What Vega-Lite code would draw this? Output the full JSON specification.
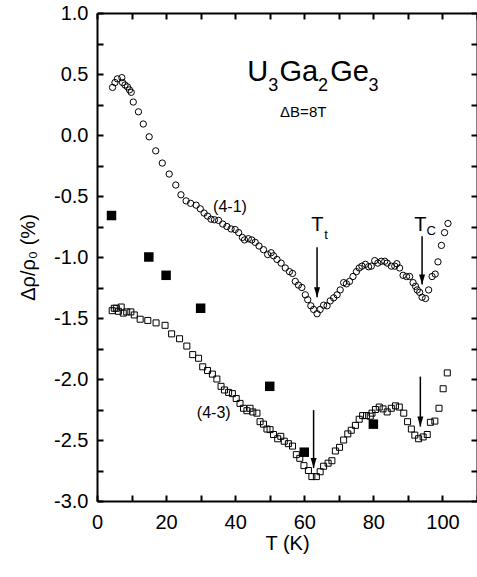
{
  "$schema": "https://vega.github.io/schema/vega-lite/v6.json",
  "width": 380,
  "height": 488,
  "autosize": {"type": "none"},
  "padding": {"left": 97, "top": 13, "right": 0, "bottom": 76},
  "background": "white",
  "config": {"font": "Liberation Sans", "view": {"stroke": null}},
  "datasets": {
    "s41": [
      {"T":4.5,"v":0.39},{"T":5.2,"v":0.43},{"T":5.9,"v":0.46},{"T":7.2,"v":0.47},{"T":7.4,"v":0.43},{"T":8.1,"v":0.41},{"T":8.8,"v":0.395},{"T":9.4,"v":0.37},{"T":9.9,"v":0.35},{"T":10.5,"v":0.27},{"T":12.0,"v":0.19},{"T":13.4,"v":0.09},{"T":15.1,"v":-0.015},{"T":17.0,"v":-0.13},{"T":18.9,"v":-0.23},{"T":20.9,"v":-0.32},{"T":22.8,"v":-0.41},{"T":24.3,"v":-0.49},{"T":25.8,"v":-0.54},{"T":27.1,"v":-0.56},{"T":28.7,"v":-0.575},{"T":29.9,"v":-0.605},{"T":31.0,"v":-0.64},{"T":32.0,"v":-0.665},{"T":33.0,"v":-0.69},{"T":34.0,"v":-0.695},{"T":35.2,"v":-0.70},{"T":36.4,"v":-0.73},{"T":37.6,"v":-0.75},{"T":38.8,"v":-0.77},{"T":40.0,"v":-0.775},{"T":41.0,"v":-0.80},{"T":42.1,"v":-0.84},{"T":42.7,"v":-0.86},{"T":43.8,"v":-0.85},{"T":44.8,"v":-0.86},{"T":45.8,"v":-0.88},{"T":46.9,"v":-0.91},{"T":48.2,"v":-0.94},{"T":49.4,"v":-0.98},{"T":50.4,"v":-0.965},{"T":51.1,"v":-0.99},{"T":52.1,"v":-1.02},{"T":53.3,"v":-1.05},{"T":54.5,"v":-1.09},{"T":55.7,"v":-1.12},{"T":56.6,"v":-1.135},{"T":57.4,"v":-1.20},{"T":58.3,"v":-1.23},{"T":59.3,"v":-1.25},{"T":60.3,"v":-1.31},{"T":61.0,"v":-1.35},{"T":61.9,"v":-1.40},{"T":62.7,"v":-1.43},{"T":63.7,"v":-1.465},{"T":64.6,"v":-1.43},{"T":65.6,"v":-1.395},{"T":66.6,"v":-1.40},{"T":67.5,"v":-1.36},{"T":68.5,"v":-1.335},{"T":69.5,"v":-1.31},{"T":70.4,"v":-1.27},{"T":71.4,"v":-1.21},{"T":72.2,"v":-1.22},{"T":73.1,"v":-1.20},{"T":74.1,"v":-1.16},{"T":75.1,"v":-1.12},{"T":75.9,"v":-1.09},{"T":76.7,"v":-1.075},{"T":77.7,"v":-1.06},{"T":78.6,"v":-1.08},{"T":79.4,"v":-1.075},{"T":80.4,"v":-1.03},{"T":81.3,"v":-1.05},{"T":82.3,"v":-1.035},{"T":83.3,"v":-1.035},{"T":84.0,"v":-1.05},{"T":85.2,"v":-1.075},{"T":86.2,"v":-1.075},{"T":86.8,"v":-1.055},{"T":87.6,"v":-1.09},{"T":88.6,"v":-1.15},{"T":89.6,"v":-1.16},{"T":90.5,"v":-1.16},{"T":91.5,"v":-1.21},{"T":92.2,"v":-1.24},{"T":92.7,"v":-1.27},{"T":93.4,"v":-1.29},{"T":94.1,"v":-1.33},{"T":95.1,"v":-1.34},{"T":96.0,"v":-1.27},{"T":97.0,"v":-1.16},{"T":97.9,"v":-1.14},{"T":98.7,"v":-1.04},{"T":99.7,"v":-0.905},{"T":100.6,"v":-0.80},{"T":101.6,"v":-0.725}
    ],
    "s43": [
      {"T":4.4,"v":-1.44},{"T":5.0,"v":-1.42},{"T":5.6,"v":-1.42},{"T":6.2,"v":-1.445},{"T":7.0,"v":-1.41},{"T":7.6,"v":-1.46},{"T":8.6,"v":-1.45},{"T":9.8,"v":-1.45},{"T":10.8,"v":-1.475},{"T":12.5,"v":-1.51},{"T":14.7,"v":-1.52},{"T":17.1,"v":-1.54},{"T":19.7,"v":-1.56},{"T":21.6,"v":-1.63},{"T":23.9,"v":-1.67},{"T":26.0,"v":-1.73},{"T":27.7,"v":-1.80},{"T":29.4,"v":-1.83},{"T":30.6,"v":-1.90},{"T":32.0,"v":-1.93},{"T":33.4,"v":-1.96},{"T":34.7,"v":-2.00},{"T":35.9,"v":-2.06},{"T":36.9,"v":-2.09},{"T":38.1,"v":-2.11},{"T":39.2,"v":-2.12},{"T":40.3,"v":-2.16},{"T":41.4,"v":-2.20},{"T":42.4,"v":-2.24},{"T":43.4,"v":-2.26},{"T":44.3,"v":-2.24},{"T":45.1,"v":-2.27},{"T":46.3,"v":-2.28},{"T":47.2,"v":-2.35},{"T":48.2,"v":-2.37},{"T":49.2,"v":-2.41},{"T":50.1,"v":-2.415},{"T":51.1,"v":-2.455},{"T":52.3,"v":-2.49},{"T":53.2,"v":-2.47},{"T":54.2,"v":-2.51},{"T":55.4,"v":-2.53},{"T":56.6,"v":-2.55},{"T":57.7,"v":-2.62},{"T":58.7,"v":-2.65},{"T":59.9,"v":-2.71},{"T":61.2,"v":-2.75},{"T":62.2,"v":-2.80},{"T":63.5,"v":-2.80},{"T":64.6,"v":-2.76},{"T":65.6,"v":-2.715},{"T":66.9,"v":-2.69},{"T":68.0,"v":-2.67},{"T":69.0,"v":-2.59},{"T":70.2,"v":-2.56},{"T":71.4,"v":-2.50},{"T":72.6,"v":-2.45},{"T":73.6,"v":-2.42},{"T":74.8,"v":-2.38},{"T":75.9,"v":-2.33},{"T":76.9,"v":-2.30},{"T":78.0,"v":-2.30},{"T":79.1,"v":-2.305},{"T":79.6,"v":-2.28},{"T":80.6,"v":-2.25},{"T":81.7,"v":-2.23},{"T":82.8,"v":-2.245},{"T":84.0,"v":-2.27},{"T":85.2,"v":-2.24},{"T":86.4,"v":-2.22},{"T":87.5,"v":-2.23},{"T":88.8,"v":-2.28},{"T":89.9,"v":-2.35},{"T":91.0,"v":-2.41},{"T":92.0,"v":-2.46},{"T":93.1,"v":-2.49},{"T":94.4,"v":-2.475},{"T":95.6,"v":-2.455},{"T":96.5,"v":-2.355},{"T":97.8,"v":-2.345},{"T":99.0,"v":-2.24},{"T":100.2,"v":-2.08},{"T":101.4,"v":-1.95}
    ],
    "filled": [
      {"T":4.2,"v":-0.66},{"T":15,"v":-1.0},{"T":20,"v":-1.15},{"T":30,"v":-1.42},{"T":50,"v":-2.06},{"T":60,"v":-2.6},{"T":80,"v":-2.37}
    ],
    "arrows": [
      {"T":63.7,"y1":-0.92,"y2":-1.33},
      {"T":94.1,"y1":-0.83,"y2":-1.225},
      {"T":62.7,"y1":-2.255,"y2":-2.73},
      {"T":93.6,"y1":-1.98,"y2":-2.39}
    ],
    "labels": [
      {"label":"U","T":43.5,"v":0.44,"group":"title"},
      {"label":"Ga","T":52.8,"v":0.44,"group":"title"},
      {"label":"Ge","T":67.5,"v":0.44,"group":"title"},
      {"label":"3","T":49.6,"v":0.357,"group":"titlesub"},
      {"label":"2","T":64.0,"v":0.357,"group":"titlesub"},
      {"label":"3","T":78.6,"v":0.357,"group":"titlesub"},
      {"label":"ΔB=8T","T":53.0,"v":0.15,"group":"field"},
      {"label":"(4-1)","T":38.5,"v":-0.63,"group":"series"},
      {"label":"(4-3)","T":33.8,"v":-2.32,"group":"series"},
      {"label":"T","T":63.8,"v":-0.79,"group":"temp"},
      {"label":"T","T":93.6,"v":-0.79,"group":"temp"},
      {"label":"t","T":65.8,"v":-0.85,"group":"tempsub"},
      {"label":"C","T":95.4,"v":-0.82,"group":"tempsub"}
    ]
  },
  "resolve": {"axis": {"x": "independent", "y": "independent"}},
  "layer": [
    {
      "data": {"name": "s41"},
      "mark": {"type": "point", "shape": "circle", "filled": false, "stroke": "black", "strokeWidth": 1, "size": 40, "opacity": 1},
      "encoding": {
        "x": {"field": "T", "type": "quantitative", "scale": {"domain": [0, 110], "nice": false, "zero": false},
          "axis": {"orient": "bottom", "values": [0,10,20,30,40,50,60,70,80,90,100,110], "labelExpr": "datum.value % 20 == 0 && datum.value <= 100 ? datum.label : ''",
            "grid": false, "domainColor": "black", "domainWidth": 2, "tickColor": "black", "tickWidth": 2, "tickSize": -6,
            "labelPadding": 17, "labelFontSize": 20, "labelColor": "black", "labelOverlap": false, "labelBound": false, "labelFlush": false,
            "title": "T (K)", "titleFontSize": 20, "titleFontWeight": "normal", "titleColor": "black", "titlePadding": 1}},
        "y": {"field": "v", "type": "quantitative", "scale": {"domain": [-3, 1], "nice": false, "zero": false},
          "axis": {"orient": "left", "values": [-3,-2.75,-2.5,-2.25,-2,-1.75,-1.5,-1.25,-1,-0.75,-0.5,-0.25,0,0.25,0.5,0.75,1],
            "labelExpr": "datum.value % 0.5 == 0 ? (datum.value < 0 ? '-' + format(-datum.value, '.1f') : format(datum.value, '.1f')) : ''",
            "grid": false, "domainColor": "black", "domainWidth": 2, "tickColor": "black", "tickWidth": 2, "tickSize": -6,
            "labelPadding": 15, "labelFontSize": 20, "labelColor": "black", "labelOverlap": false, "labelBound": false, "labelFlush": false,
            "title": "Δρ/ρ₀ (%)", "titleFontSize": 20, "titleFontWeight": "normal", "titleColor": "black", "titlePadding": 15}}
      }
    },
    {
      "data": {"name": "s43"},
      "mark": {"type": "point", "shape": "square", "filled": false, "stroke": "black", "strokeWidth": 1, "size": 36, "opacity": 1},
      "encoding": {
        "x": {"field": "T", "type": "quantitative", "axis": null},
        "y": {"field": "v", "type": "quantitative", "axis": null}
      }
    },
    {
      "data": {"name": "filled"},
      "mark": {"type": "point", "shape": "square", "filled": true, "fill": "black", "size": 90, "opacity": 1},
      "encoding": {
        "x": {"field": "T", "type": "quantitative", "axis": null},
        "y": {"field": "v", "type": "quantitative", "axis": null}
      }
    },
    {
      "data": {"name": "arrows"},
      "mark": {"type": "rule", "color": "black", "strokeWidth": 1.5},
      "encoding": {
        "x": {"field": "T", "type": "quantitative",
          "axis": {"orient": "top", "values": [0,10,20,30,40,50,60,70,80,90,100,110], "labels": false, "title": null, "grid": false,
            "domainColor": "black", "domainWidth": 2, "tickColor": "black", "tickWidth": 2, "tickSize": -6}},
        "y": {"field": "y1", "type": "quantitative",
          "axis": {"orient": "right", "values": [-3,-2.75,-2.5,-2.25,-2,-1.75,-1.5,-1.25,-1,-0.75,-0.5,-0.25,0,0.25,0.5,0.75,1], "labels": false, "title": null, "grid": false,
            "domainColor": "black", "domainWidth": 2, "tickColor": "black", "tickWidth": 2, "tickSize": -6}},
        "y2": {"field": "y2"}
      }
    },
    {
      "data": {"name": "arrows"},
      "mark": {"type": "point", "shape": "M -0.3 -1 L 0.3 -1 L 0 0 Z", "filled": true, "fill": "black", "size": 400, "opacity": 1},
      "encoding": {
        "x": {"field": "T", "type": "quantitative", "axis": null},
        "y": {"field": "y2", "type": "quantitative", "axis": null}
      }
    },
    {
      "data": {"name": "labels"},
      "transform": [{"filter": "datum.group == 'title'"}],
      "mark": {"type": "text", "fontSize": 29, "align": "left", "baseline": "alphabetic", "color": "black"},
      "encoding": {
        "x": {"field": "T", "type": "quantitative", "axis": null},
        "y": {"field": "v", "type": "quantitative", "axis": null},
        "text": {"field": "label"}
      }
    },
    {
      "data": {"name": "labels"},
      "transform": [{"filter": "datum.group == 'titlesub'"}],
      "mark": {"type": "text", "fontSize": 18, "align": "left", "baseline": "alphabetic", "color": "black"},
      "encoding": {
        "x": {"field": "T", "type": "quantitative", "axis": null},
        "y": {"field": "v", "type": "quantitative", "axis": null},
        "text": {"field": "label"}
      }
    },
    {
      "data": {"name": "labels"},
      "transform": [{"filter": "datum.group == 'field'"}],
      "mark": {"type": "text", "fontSize": 15, "align": "left", "baseline": "alphabetic", "color": "black"},
      "encoding": {
        "x": {"field": "T", "type": "quantitative", "axis": null},
        "y": {"field": "v", "type": "quantitative", "axis": null},
        "text": {"field": "label"}
      }
    },
    {
      "data": {"name": "labels"},
      "transform": [{"filter": "datum.group == 'series'"}],
      "mark": {"type": "text", "fontSize": 16, "align": "center", "baseline": "alphabetic", "color": "black"},
      "encoding": {
        "x": {"field": "T", "type": "quantitative", "axis": null},
        "y": {"field": "v", "type": "quantitative", "axis": null},
        "text": {"field": "label"}
      }
    },
    {
      "data": {"name": "labels"},
      "transform": [{"filter": "datum.group == 'temp'"}],
      "mark": {"type": "text", "fontSize": 20, "align": "center", "baseline": "alphabetic", "color": "black"},
      "encoding": {
        "x": {"field": "T", "type": "quantitative", "axis": null},
        "y": {"field": "v", "type": "quantitative", "axis": null},
        "text": {"field": "label"}
      }
    },
    {
      "data": {"name": "labels"},
      "transform": [{"filter": "datum.group == 'tempsub'"}],
      "mark": {"type": "text", "fontSize": 13, "align": "left", "baseline": "alphabetic", "color": "black"},
      "encoding": {
        "x": {"field": "T", "type": "quantitative", "axis": null},
        "y": {"field": "v", "type": "quantitative", "axis": null},
        "text": {"field": "label"}
      }
    }
  ]
}
